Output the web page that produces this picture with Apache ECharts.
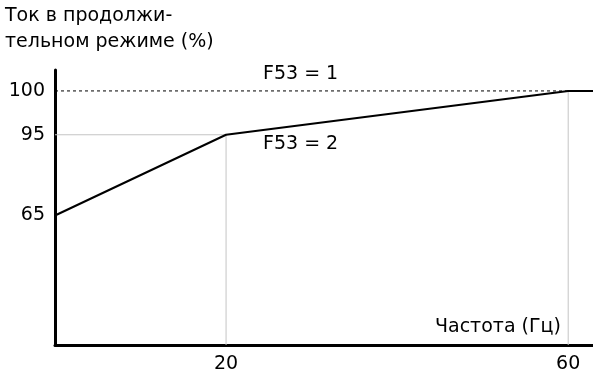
<!DOCTYPE html>
<html>
<head>
<meta charset="utf-8">
<script src="https://cdn.jsdelivr.net/npm/echarts@6/dist/echarts.min.js"></script>
<style>
html,body{margin:0;padding:0;background:#fff;}
#c{width:593px;height:374px;}
</style>
</head>
<body>
<div id="c"></div>
<script>
// ---- data ----
const freqF53_2 = [0, 20, 60, 62.9];
const currF53_2 = [65, 95, 100, 100];
const freqF53_1 = [0, 60];
const currF53_1 = [100, 100];
const yTickValues = [65, 95, 100];
const xTickValues = [20, 60];
const yTitle = 'Ток в продолжи-\nтельном режиме (%)';
const xTitle = 'Частота (Гц)';
const label1 = 'F53 = 1';
const label2 = 'F53 = 2';

// ---- non-linear (schematic) vertical scale of the original drawing ----
const yScaleStops = [[65, 130], [95, 211], [100, 255]];
function yMap(v) {
  const s = yScaleStops;
  let i = 0;
  if (v <= s[0][0]) i = 0;
  else if (v >= s[s.length - 1][0]) i = s.length - 2;
  else { while (v > s[i + 1][0]) i++; }
  const a = s[i], b = s[i + 1];
  return a[1] + (v - a[0]) * (b[1] - a[1]) / (b[0] - a[0]);
}
const yLabelOf = {};
yTickValues.forEach(v => { yLabelOf[yMap(v).toFixed(3)] = String(v); });

const FONT = 'DejaVu Sans';
const FS = 19;
const chart = echarts.init(document.getElementById('c'), null, {renderer: 'canvas'});
const pair = (xs, ys) => xs.map((x, i) => [x, yMap(ys[i])]);
const gray = '#c4c4c4';

chart.setOption({
  animation: false,
  grid: {left: 55, right: 0, top: 70, bottom: 28, containLabel: false},
  xAxis: {
    type: 'value', min: 0, max: 62.9,
    axisLine: {show: true, lineStyle: {color: '#000', width: 3}},
    axisTick: {show: false},
    splitLine: {show: false},
    axisLabel: {customValues: xTickValues, color: '#000', fontFamily: FONT, fontSize: FS, margin: 10,
      formatter: v => String(Math.round(v))}
  },
  yAxis: {
    type: 'value', min: 0, max: 276,
    axisLine: {show: true, lineStyle: {color: '#000', width: 3}},
    axisTick: {show: false},
    splitLine: {show: false},
    axisLabel: {customValues: yTickValues.map(yMap), color: '#000', fontFamily: FONT, fontSize: FS, margin: 10,
      formatter: v => yLabelOf[v.toFixed(3)] || ''}
  },
  series: [
    {type: 'line', data: [[0, yMap(95)], [20, yMap(95)], [20, 0]], symbol: 'none', silent: true,
      lineStyle: {color: gray, width: 1}},
    {type: 'line', data: [[60, yMap(100)], [60, 0]], symbol: 'none', silent: true,
      lineStyle: {color: gray, width: 1}},
    {type: 'line', data: pair(freqF53_1, currF53_1), symbol: 'none', silent: true,
      lineStyle: {color: '#000', width: 1, type: [3, 3]}},
    {type: 'line', data: pair(freqF53_2, currF53_2), symbol: 'none', silent: true,
      lineStyle: {color: '#000', width: 2}}
  ],
  graphic: [
    {type: 'text', left: 5, top: 3, style: {text: yTitle, font: FS + 'px "' + FONT + '"', fill: '#000', lineHeight: 26}},
    {type: 'text', left: 263, top: 65, style: {text: label1, font: FS + 'px "' + FONT + '"', fill: '#000'}},
    {type: 'text', left: 263, top: 135, style: {text: label2, font: FS + 'px "' + FONT + '"', fill: '#000'}},
    {type: 'text', left: 435, top: 318, style: {text: xTitle, font: FS + 'px "' + FONT + '"', fill: '#000'}}
  ]
});
</script>
</body>
</html>
